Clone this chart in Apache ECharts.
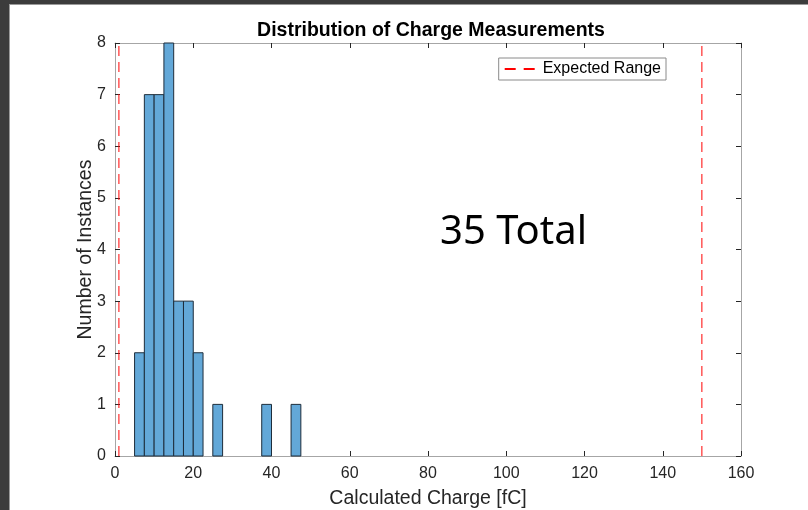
<!DOCTYPE html>
<html>
<head>
<meta charset="utf-8">
<script src="https://cdn.jsdelivr.net/npm/echarts@6/dist/echarts.min.js"></script>
<style>
html,body{margin:0;padding:0;background:#fff;}
#main{width:808px;height:510px;}
</style>
</head>
<body>
<div id="main"></div>
<script>
// bin edges (fC) and counts
var binStart = [5, 7.5, 10, 12.5, 15, 17.5, 20, 25, 37.5, 45];
var binEnd   = [7.5, 10, 12.5, 15, 17.5, 20, 22.5, 27.5, 40, 47.5];
var counts   = [2, 7, 7, 8, 3, 3, 2, 1, 1, 1];
var rangeLow = 1, rangeHigh = 150; // expected range
var totalText = '35 Total';

var myChart = echarts.init(document.getElementById('main'));
var histData = [];
for (var i = 0; i < counts.length; i++) {
    histData.push([binStart[i], binEnd[i], counts[i]]);
}
var axisColor = '#262626';
var boxColor = '#a6a6a6';
var fontFam = '"Liberation Sans", Arial, sans-serif';
var dash = [10, 6];
// ticks pointing into the plot (matlab style)
var tick = {show: true, inside: false, length: -5, lineStyle: {color: axisColor}};

function rangeSeries(v) {
    return {
        type: 'line',
        name: 'Expected Range',
        data: [[v, 0], [v, 8]],
        symbol: 'none',
        color: '#ff0000',
        lineStyle: {color: '#ff0000', type: dash, width: 1},
        z: 5
    };
}

var option = {
    animation: false,
    backgroundColor: '#fff',
    title: {
        text: 'Distribution of Charge Measurements',
        left: 426, top: 16, textAlign: 'center',
        textStyle: {fontFamily: fontFam, fontSize: 19.5, fontWeight: 'bold', color: '#000'}
    },
    legend: {
        data: [{name: 'Expected Range', icon: 'path://M0,0 H11 V2 H0 Z M19,0 H30 V2 H19 Z'}],
        right: 142, top: 58,
        padding: [3, 5, 3, 6],
        borderColor: '#8a8a8a', borderWidth: 1, borderRadius: 0,
        itemWidth: 30, itemHeight: 2, itemGap: 6,
        textStyle: {fontFamily: fontFam, fontSize: 16, color: '#000', padding: [0, 0, 0, 3]}
    },
    grid: {left: 115, right: 67, top: 43, bottom: 54, outerBoundsMode: 'none'},
    xAxis: [{
        type: 'value', min: 0, max: 160, interval: 20,
        name: 'Calculated Charge [fC]', nameLocation: 'middle', nameGap: 33,
        nameTextStyle: {fontFamily: fontFam, fontSize: 19.5, color: axisColor},
        axisLine: {onZero: false, lineStyle: {color: boxColor}},
        axisTick: tick,
        axisLabel: {fontFamily: fontFam, fontSize: 16, color: axisColor, margin: 10},
        splitLine: {show: false}
    }, {
        type: 'value', min: 0, max: 160, interval: 20, position: 'top',
        axisLine: {show: true, onZero: false, lineStyle: {color: boxColor}},
        axisTick: tick,
        axisLabel: {show: false}, splitLine: {show: false}
    }],
    yAxis: [{
        type: 'value', min: 0, max: 8, interval: 1,
        name: 'Number of Instances', nameLocation: 'middle', nameGap: 19,
        nameMoveOverlap: false,
        nameTextStyle: {fontFamily: fontFam, fontSize: 19.5, color: axisColor},
        axisLine: {show: true, onZero: false, lineStyle: {color: boxColor}},
        axisTick: tick,
        axisLabel: {fontFamily: fontFam, fontSize: 16, color: axisColor, margin: 9},
        splitLine: {show: false}
    }, {
        type: 'value', min: 0, max: 8, interval: 1, position: 'right',
        axisLine: {show: true, onZero: false, lineStyle: {color: boxColor}},
        axisTick: tick,
        axisLabel: {show: false}, splitLine: {show: false}
    }],
    series: [{
        type: 'custom',
        name: 'hist',
        data: histData,
        renderItem: function(params, api) {
            var p0 = api.coord([api.value(0), api.value(2)]);
            var p1 = api.coord([api.value(1), 0]);
            return {
                type: 'rect',
                shape: {x: p0[0], y: p0[1], width: p1[0] - p0[0], height: p1[1] - p0[1]},
                style: {fill: '#63a8d8', stroke: '#1e2d3b', lineWidth: 1}
            };
        },
        encode: {x: [0, 1], y: 2}
    }, rangeSeries(rangeLow), rangeSeries(rangeHigh)],
    graphic: [
        {type: 'rect', left: 0, top: 0, shape: {width: 9, height: 510}, style: {fill: '#3c3c3c'}, z: 100},
        {type: 'rect', left: 0, top: 0, shape: {width: 808, height: 4}, style: {fill: '#3c3c3c'}, z: 100},
        {type: 'rect', left: 9, top: 4, shape: {width: 1, height: 506}, style: {fill: '#9a9a9a'}, z: 100},
        {type: 'rect', left: 9, top: 4, shape: {width: 799, height: 1}, style: {fill: '#9a9a9a'}, z: 100},
        {type: 'text', left: 440, top: 213,
         style: {text: totalText, fontFamily: '"Noto Sans", sans-serif', fontSize: 40, fill: '#000'}, z: 100}
    ]
};
myChart.setOption(option);
</script>
</body>
</html>
